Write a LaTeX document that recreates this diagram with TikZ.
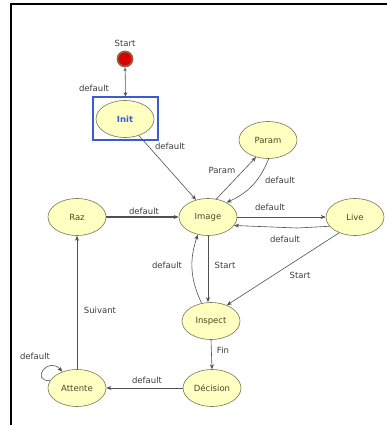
\documentclass[tikz,border=0pt]{standalone}
\usepackage{fontspec}
\setmainfont{DejaVu Sans}
\usetikzlibrary{shapes.geometric,arrows.meta}
\definecolor{stfill}{HTML}{FFFFC2}
\definecolor{stdraw}{HTML}{7A7A5A}
\definecolor{sttext}{HTML}{4A4A24}
\definecolor{lbl}{HTML}{3C3C3C}
\definecolor{edge}{HTML}{505050}
\definecolor{selblue}{HTML}{3A5CD0}
\tikzset{
  every node/.style={font=\fontsize{8.5}{9}\selectfont},
  st/.style={ellipse, draw=stdraw, fill=stfill, line width=0.6pt, minimum width=58pt, minimum height=37pt, inner sep=0pt, text=sttext},
  lab/.style={text=lbl, inner sep=0pt},
  arr/.style={draw=edge, line width=0.6pt, -{Stealth[length=5pt,width=4pt]}},
}
\begin{document}
\begin{tikzpicture}[x=1pt,y=-1pt]
\useasboundingbox (0,0) rectangle (387,425);
% frame
\draw[line width=2pt] (11,425) -- (11,4) -- (387,4);
% start
\node[circle, draw=stdraw!80!red, fill=red!85!black, line width=1.8pt, minimum size=15pt, inner sep=0pt] (start) at (125,59) {};
\node[lab] (startlbl) at (125,43) {Start};
% states
\node[st, text=selblue, font=\fontsize{8.5}{9}\selectfont\bfseries] (init) at (125,119) {Init};
\node[draw=selblue, line width=1.4pt, minimum width=65pt, minimum height=43pt, inner sep=0pt] (initbox) at (125.5,118.5) {};
\node[st] (param) at (268,140) {Param};
\node[st] (image) at (208,217) {Image};
\node[st] (live) at (355,217) {Live};
\node[st] (raz) at (77,217) {Raz};
\node[st] (inspect) at (211,321) {Inspect};
\node[st] (decision) at (212,388) {Décision};
\node[st] (attente) at (77,388) {Attente};
% edges
\draw[draw=edge, line width=0.6pt, {Stealth[length=4pt,width=3pt]}-{Stealth[length=4pt,width=4pt]}] (start) -- (initbox.north);
\node[lab] (l1) at (94,88) {default};
\draw[arr] (init.-50) -- (image.125);
\node[lab] (l2) at (170,146) {default};
\draw[arr] (image.65) -- (param.235);
\node[lab] (l3) at (222,170) {Param};
\draw[arr] (param.272) to[bend left=22] (image.38);
\node[lab] (l4) at (280,180) {default};
\draw[arr] (image.east) -- (live.west);
\node[lab] (l5) at (270,207) {default};
\coordinate (lb) at (297,228);
\draw[arr] (live.200) -- (lb) -- (image.-18);
\node[lab] (l6) at (285,239) {default};
\draw[arr, line width=1.3pt] (raz.east) -- (image.west);
\node[lab] (l7) at (144,211) {default};
\draw[arr] (image.south) -- (image.south |- inspect.north);
\node[lab] (l8) at (225,265) {Start};
\draw[arr] (inspect.118) to[bend left=22] (image.240);
\node[lab] (l9) at (167,265) {default};
\draw[arr] (live.225) -- (inspect.45);
\node[lab] (l10) at (300,275) {Start};
\draw[arr] (inspect.south) -- (decision.north);
\node[lab] (l11) at (223,350) {Fin};
\draw[arr] (decision.west) -- (attente.east);
\node[lab] (l12) at (147,380) {default};
\draw[arr] (attente.north) -- (raz.south);
\node[lab] (l13) at (100,310) {Suivant};
\draw[arr] (attente.165) .. controls +(-20,0) and +(-14,-16) .. (attente.132);
\node[lab] (l14) at (35,356) {default};
\end{tikzpicture}
\end{document}
